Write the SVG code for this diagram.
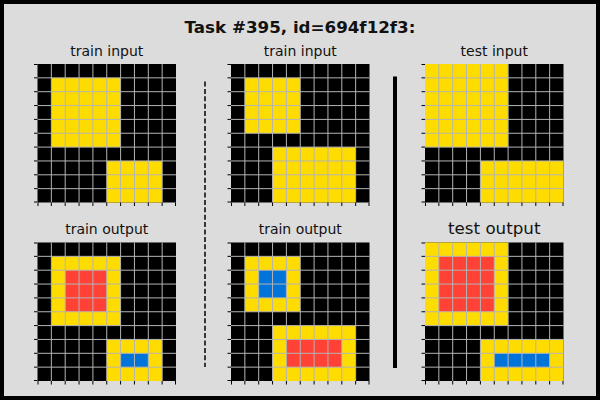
<svg xmlns="http://www.w3.org/2000/svg" xmlns:xlink="http://www.w3.org/1999/xlink" width="600" height="400" viewBox="0 0 600 400">
<style>
.t{font-family:"DejaVu Sans",sans-serif;fill:#111;text-anchor:middle}
.st{font-size:14px}
.big{font-size:16.7px}
.main{font-size:16.7px;font-weight:bold}
.bg{fill:#000}
.y{fill:#FFDC00}
.r{fill:#FF4136}
.b{fill:#0074D9}
.grid{stroke:#b4b4b4;stroke-width:1;fill:none}
.tick{stroke:#000;stroke-width:1;fill:none}
</style>
<defs>
<g id="gridlines">
<path class="grid" d="M13.85 0V138.5M27.7 0V138.5M41.55 0V138.5M55.4 0V138.5M69.25 0V138.5M83.1 0V138.5M96.95 0V138.5M110.8 0V138.5M124.65 0V138.5M0 13.85H138.5M0 27.7H138.5M0 41.55H138.5M0 55.4H138.5M0 69.25H138.5M0 83.1H138.5M0 96.95H138.5M0 110.8H138.5M0 124.65H138.5"/>
<path class="tick" d="M-3.5 0.5H0M-3.5 13.85H0M-3.5 27.7H0M-3.5 41.55H0M-3.5 55.4H0M-3.5 69.25H0M-3.5 83.1H0M-3.5 96.95H0M-3.5 110.8H0M-3.5 124.65H0M-3.5 138H0M0.5 138.5V142M13.85 138.5V142M27.7 138.5V142M41.55 138.5V142M55.4 138.5V142M69.25 138.5V142M83.1 138.5V142M96.95 138.5V142M110.8 138.5V142M124.65 138.5V142M138 138.5V142"/>
</g>
</defs>
<rect x="0" y="0" width="600" height="400" fill="#000"/>
<rect x="4" y="4" width="592" height="392" fill="#dcdcdc"/>
<text class="t main" x="300" y="33">Task #395, id=694f12f3:</text>

<g id="train-input-1">
<text class="t st" x="106.75" y="56">train input</text>
<g transform="translate(37.5,64)">
<rect class="bg" width="138.5" height="138.5"/>
<rect class="y" x="13.85" y="13.85" width="69.25" height="69.25"/>
<rect class="y" x="69.25" y="96.95" width="55.4" height="41.55"/>
<use xlink:href="#gridlines"/>
</g>
</g>

<g id="train-output-1">
<text class="t st" x="106.75" y="234">train output</text>
<g transform="translate(37.5,242.5)">
<rect class="bg" width="138.5" height="138.5"/>
<rect class="y" x="13.85" y="13.85" width="69.25" height="69.25"/>
<rect class="r" x="27.7" y="27.7" width="41.55" height="41.55"/>
<rect class="y" x="69.25" y="96.95" width="55.4" height="41.55"/>
<rect class="b" x="83.1" y="110.8" width="27.7" height="13.85"/>
<use xlink:href="#gridlines"/>
</g>
</g>

<g id="train-input-2">
<text class="t st" x="300.25" y="56">train input</text>
<g transform="translate(231,64)">
<rect class="bg" width="138.5" height="138.5"/>
<rect class="y" x="13.85" y="13.85" width="55.4" height="55.4"/>
<rect class="y" x="41.55" y="83.1" width="83.1" height="55.4"/>
<use xlink:href="#gridlines"/>
</g>
</g>

<g id="train-output-2">
<text class="t st" x="300.25" y="234">train output</text>
<g transform="translate(231,242.5)">
<rect class="bg" width="138.5" height="138.5"/>
<rect class="y" x="13.85" y="13.85" width="55.4" height="55.4"/>
<rect class="b" x="27.7" y="27.7" width="27.7" height="27.7"/>
<rect class="y" x="41.55" y="83.1" width="83.1" height="55.4"/>
<rect class="r" x="55.4" y="96.95" width="55.4" height="27.7"/>
<use xlink:href="#gridlines"/>
</g>
</g>

<g id="test-input">
<text class="t st" x="494.25" y="56">test input</text>
<g transform="translate(425,64)">
<rect class="bg" width="138.5" height="138.5"/>
<rect class="y" x="0" y="0" width="83.1" height="83.1"/>
<rect class="y" x="55.4" y="96.95" width="83.1" height="41.55"/>
<use xlink:href="#gridlines"/>
</g>
</g>

<g id="test-output">
<text class="t big" x="494.25" y="234">test output</text>
<g transform="translate(425,242.5)">
<rect class="bg" width="138.5" height="138.5"/>
<rect class="y" x="0" y="0" width="83.1" height="83.1"/>
<rect class="r" x="13.85" y="13.85" width="55.4" height="55.4"/>
<rect class="y" x="55.4" y="96.95" width="83.1" height="41.55"/>
<rect class="b" x="69.25" y="110.8" width="55.4" height="13.85"/>
<use xlink:href="#gridlines"/>
</g>
</g>

<g id="separators">
<line x1="205" y1="81.5" x2="205" y2="367" stroke="#000" stroke-width="1.5" stroke-dasharray="5,2.4"/>
<line x1="395" y1="76.5" x2="395" y2="368" stroke="#000" stroke-width="4"/>
</g>
</svg>
